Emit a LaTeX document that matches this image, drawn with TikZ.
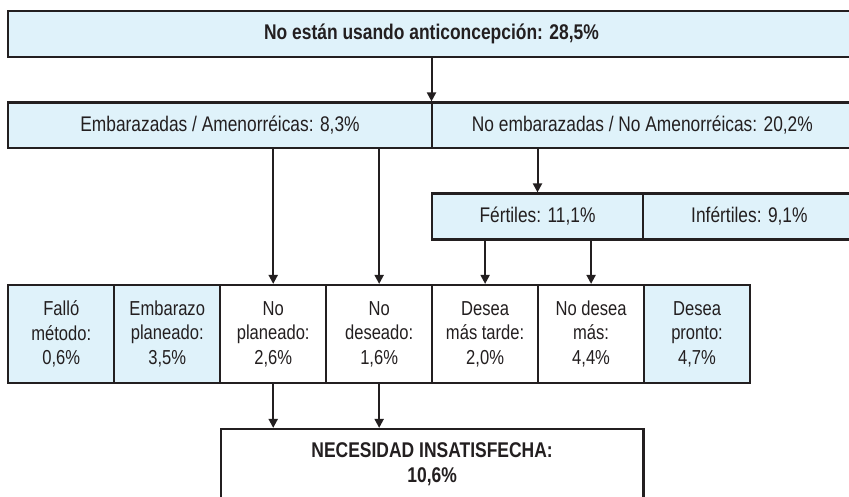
\documentclass[tikz,border=0pt]{standalone}
\usepackage{fontspec}
\setmainfont{Liberation Sans}[FakeStretch=0.82]
\usetikzlibrary{arrows.meta}
\definecolor{boxblue}{HTML}{DFF2FA}
\definecolor{ink}{HTML}{231F20}
\tikzset{
  boxbase/.style={draw=ink, line width=2.2pt, rectangle, inner sep=0pt, text=ink, align=center},
  bluebox/.style={boxbase, fill=boxblue},
  whitebox/.style={boxbase, fill=white},
  rowfont/.style={font=\fontsize{21.15}{24.5}\selectfont},
  cellfont/.style={font=\fontsize{20.2}{24.5}\selectfont},
  titlefont/.style={font=\fontsize{21.25}{24.5}\selectfont\bfseries},
  finalfont/.style={font=\fontsize{21.3}{24.5}\selectfont\bfseries},
  cell/.style={minimum width=105.96pt, minimum height=97.7pt, cellfont},
  arr/.style={draw=ink, line width=2pt, -{Triangle[length=9pt,width=9pt]}}
}
\begin{document}
\begin{tikzpicture}[x=1pt,y=-1pt]
\useasboundingbox (0,0) rectangle (849,496);
% top
\node[bluebox, titlefont, minimum width=846.4pt, minimum height=46pt] (top) at (431.5,34) {No están usando anticoncepción: 28,5\%};
% row 2
\node[bluebox, rowfont, minimum width=423.4pt, minimum height=45.8pt] (emb) at (220,125.4) {Embarazadas / Amenorréicas: 8,3\%};
\node[bluebox, rowfont, minimum width=421.4pt, minimum height=45.8pt] (noemb) at (642.4,125.4) {No embarazadas / No Amenorréicas: 20,2\%};
% row 3
\node[bluebox, rowfont, minimum width=211.6pt, minimum height=46pt] (fert) at (537.5,216.5) {Fértiles: 11,1\%};
\node[bluebox, rowfont, minimum width=212.2pt, minimum height=46pt] (infert) at (749.4,216.5) {Infértiles: 9,1\%};
% cells
\node[bluebox, cell] (c1) at (61.28,333.85) {Falló\\método:\\0,6\%};
\node[bluebox, cell] (c2) at (167.24,333.85) {Embarazo\\planeado:\\3,5\%};
\node[whitebox, cell] (c3) at (273.2,333.85) {No\\planeado:\\2,6\%};
\node[whitebox, cell] (c4) at (379.16,333.85) {No\\deseado:\\1,6\%};
\node[whitebox, cell] (c5) at (485.12,333.85) {Desea\\más tarde:\\2,0\%};
\node[whitebox, cell] (c6) at (591.08,333.85) {No desea\\más:\\4,4\%};
\node[bluebox, cell] (c7) at (697.04,333.85) {Desea\\pronto:\\4,7\%};
% final
\node[whitebox, finalfont, minimum width=422.8pt, minimum height=70pt] (final) at (432.1,464) {NECESIDAD INSATISFECHA:\\10,6\%};
% arrows
\draw[arr] (top.south) -- (top.south |- emb.north);
\draw[arr] (c3.north |- emb.south) -- (c3.north);
\draw[arr] (c4.north |- emb.south) -- (c4.north);
\draw[arr] (fert.north |- noemb.south) -- (fert.north);
\draw[arr] (c5.north |- fert.south) -- (c5.north);
\draw[arr] (c6.north |- fert.south) -- (c6.north);
\draw[arr] (c3.south) -- (c3.south |- final.north);
\draw[arr] (c4.south) -- (c4.south |- final.north);
\end{tikzpicture}
\end{document}
